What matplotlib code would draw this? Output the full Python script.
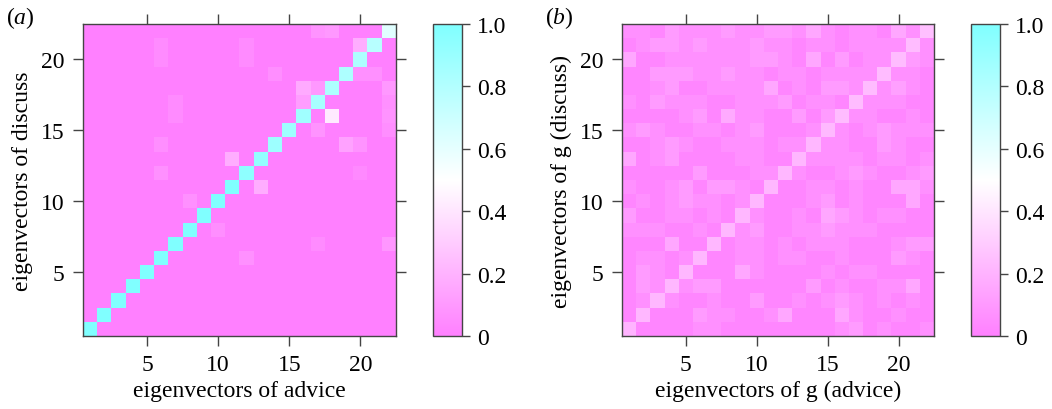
import numpy as np
import matplotlib
matplotlib.use("Agg")
import matplotlib.pyplot as plt
from matplotlib.colors import LinearSegmentedColormap

plt.rcParams['font.family'] = ['Liberation Serif', 'DejaVu Serif']
plt.rcParams['mathtext.fontset'] = 'custom'
plt.rcParams['mathtext.it'] = 'Liberation Serif:italic'
plt.rcParams['mathtext.rm'] = 'Liberation Serif'

n = 22
ticks = [5, 10, 15, 20]
cbar_ticks = [0, 0.2, 0.4, 0.6, 0.8, 1.0]
cbar_labels = ["0", "0.2", "0.4", "0.6", "0.8", "1.0"]

# Panel (a): diagonal values and off-diagonal entries (row, col, value)
diag_a = [1.0, 1.0, 1.0, 1.0, 1.0, 1.0, 1.0, 1.0, 1.0, 1.0, 1.0,
          0.94, 0.92, 0.88, 0.88, 0.87, 0.84, 0.82, 0.82, 0.82, 0.78, 0.62]
off_rows = [22, 22, 21, 21, 20, 20, 21, 19, 19, 19, 18, 18, 18, 17, 17, 16, 16, 17, 15, 15, 14, 14, 14, 13, 12, 12, 11, 10, 8, 7, 7, 6, 16, 17]
off_cols = [17, 18, 20, 6, 6, 12, 12, 14, 20, 21, 16, 17, 22, 16, 22, 18, 22, 7, 17, 22, 19, 20, 6, 11, 6, 20, 13, 8, 10, 17, 22, 12, 7, 22]
off_vals = [0.08, 0.10, 0.18, 0.05, 0.05, 0.05, 0.05, 0.06, 0.07, 0.07, 0.17, 0.10, 0.10, 0.12, 0.13, 0.42, 0.08, 0.05, 0.08, 0.06, 0.14, 0.08, 0.06, 0.18, 0.07, 0.04, 0.18, 0.07, 0.06, 0.05, 0.09, 0.07, 0.05, 0.07]

# Panel (b): rows listed from top (row 22) to bottom (row 1), columns 1..22
mat_b_top_down = [
    [.07, .07, .03, .11, .07, .07, .07, .11, .07, .07, .11, .11, .07, .16, .07, .03, .07, .07, .03, .16, .07, .25],
    [.03, .07, .11, .11, .07, .11, .07, .07, .07, .11, .07, .07, .03, .07, .07, .03, .07, .07, .07, .07, .24, .07],
    [.16, .03, .03, .07, .07, .07, .07, .07, .07, .11, .11, .07, .03, .16, .03, .11, .03, .07, .07, .24, .11, .07],
    [.03, .03, .11, .11, .11, .07, .07, .11, .07, .07, .03, .07, .07, .03, .07, .07, .07, .07, .24, .07, .07, .03],
    [.03, .03, .07, .11, .03, .03, .07, .07, .07, .07, .16, .03, .07, .03, .11, .11, .07, .24, .07, .13, .07, .03],
    [.07, .03, .11, .07, .07, .07, .03, .03, .07, .07, .07, .11, .03, .07, .07, .03, .24, .07, .07, .07, .03, .03],
    [.03, .03, .03, .03, .07, .11, .03, .17, .07, .07, .03, .03, .11, .03, .11, .24, .07, .07, .03, .03, .07, .03],
    [.07, .11, .07, .03, .03, .07, .07, .03, .07, .11, .03, .03, .03, .07, .23, .07, .03, .07, .11, .07, .07, .07],
    [.03, .03, .07, .11, .07, .03, .03, .07, .07, .07, .03, .07, .07, .22, .07, .07, .03, .03, .11, .07, .03, .03],
    [.16, .03, .07, .11, .03, .03, .03, .03, .07, .07, .03, .03, .22, .07, .07, .07, .07, .03, .07, .07, .03, .07],
    [.03, .03, .03, .03, .03, .11, .03, .03, .03, .07, .07, .22, .07, .03, .03, .07, .11, .07, .03, .03, .07, .11],
    [.07, .03, .03, .07, .11, .03, .11, .11, .07, .03, .22, .03, .03, .07, .07, .03, .07, .03, .03, .16, .16, .07],
    [.03, .07, .03, .07, .11, .07, .07, .03, .07, .22, .03, .03, .03, .07, .11, .03, .07, .03, .03, .03, .16, .03],
    [.11, .03, .03, .07, .07, .03, .07, .03, .22, .07, .03, .03, .07, .03, .16, .11, .07, .03, .07, .07, .03, .03],
    [.07, .07, .07, .03, .03, .07, .03, .22, .07, .11, .03, .03, .07, .07, .11, .07, .07, .07, .03, .03, .03, .03],
    [.03, .03, .03, .16, .03, .03, .22, .03, .07, .07, .03, .07, .03, .07, .07, .07, .03, .03, .03, .07, .11, .11],
    [.03, .07, .07, .03, .07, .22, .03, .03, .07, .07, .03, .07, .07, .03, .03, .07, .03, .03, .03, .11, .07, .03],
    [.03, .11, .07, .03, .22, .03, .03, .03, .16, .07, .03, .03, .03, .03, .07, .03, .07, .07, .03, .03, .03, .03],
    [.03, .11, .07, .22, .07, .11, .11, .03, .03, .03, .03, .03, .03, .11, .03, .07, .03, .03, .07, .07, .16, .03],
    [.03, .07, .22, .07, .03, .03, .07, .03, .03, .11, .03, .03, .07, .03, .07, .11, .07, .03, .07, .03, .07, .03],
    [.03, .22, .03, .03, .03, .11, .07, .07, .03, .03, .07, .16, .03, .03, .03, .16, .07, .03, .03, .07, .03, .03],
    [.21, .03, .03, .03, .03, .07, .07, .03, .03, .03, .03, .03, .03, .03, .03, .07, .11, .03, .07, .03, .03, .07],
]

# Build matrices (row index 0 = eigenvector 1)
mat_a = np.zeros((n, n))
for i, v in enumerate(diag_a):
    mat_a[i, i] = v
for r, c, v in zip(off_rows, off_cols, off_vals):
    mat_a[r - 1, c - 1] = v
mat_b = np.array(mat_b_top_down)[::-1]

cmap = LinearSegmentedColormap.from_list("cmrev", ["#FF80FF", "#FFFFFF", "#80FFFF"], N=256)

W, H = 1052, 410
fig = plt.figure(figsize=(W / 100, H / 100), dpi=100)

spine_col = "#444444"
fs = 17
tick_len = 7.2

def make_panel(left, right, cb_left, cb_right, mat, xlabel, ylabel, tag, tag_x):
    bottom_px, top_px = 337, 25
    wpx = right - left
    hpx = bottom_px - top_px
    ax = fig.add_axes([left / W, (H - bottom_px) / H, wpx / W, hpx / H])
    im = ax.imshow(mat, cmap=cmap, vmin=0, vmax=1, origin="lower",
                   extent=(0.5, n + 0.5, 0.5, n + 0.5), aspect="auto", interpolation="nearest")
    ax.set_xlim(0.5, n + 0.5)
    ax.set_ylim(0.5, n + 0.5)
    ax.set_xticks(ticks)
    ax.set_yticks(ticks)
    ax.tick_params(direction="out", length=tick_len, width=1, color=spine_col, labelsize=fs,
                   top=True, right=True, labeltop=False, labelright=False)
    ax.tick_params(axis="y", pad=6)
    ax.tick_params(axis="x", pad=6)
    for s in ax.spines.values():
        s.set_color(spine_col)
        s.set_linewidth(1)
    ax.set_xlabel(xlabel, fontsize=fs)
    ax.set_ylabel(ylabel, fontsize=fs)
    ax.xaxis.set_label_coords(0.5, -44 / hpx)
    ax.yaxis.set_label_coords(-50 / wpx, 0.5)
    cax = fig.add_axes([cb_left / W, (H - bottom_px) / H, (cb_right - cb_left) / W, hpx / H])
    cb = fig.colorbar(im, cax=cax, ticks=cbar_ticks)
    cb.ax.set_yticklabels(cbar_labels)
    cb.ax.tick_params(direction="out", length=tick_len * 0.8, width=1, color=spine_col, labelsize=fs, pad=5)
    cb.outline.set_edgecolor(spine_col)
    cb.outline.set_linewidth(1)
    fig.text(tag_x / W, 1 - 18 / H, "($\\mathit{" + tag + "}$)", fontsize=fs, va="center", ha="left")
    return ax

make_panel(83, 396, 433, 462, mat_a, "eigenvectors of advice", "eigenvectors of discuss", "a", 6)
make_panel(622, 934, 971, 1000, mat_b, "eigenvectors of g (advice)", "eigenvectors of g (discuss)", "b", 545)

fig.savefig("out.png", dpi=100)
